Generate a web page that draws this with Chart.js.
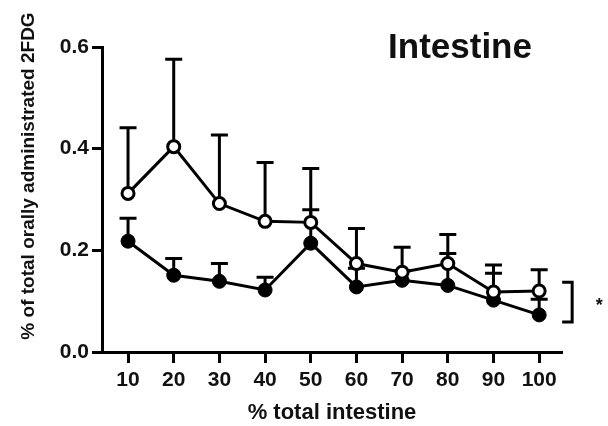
<!DOCTYPE html>
<html>
<head>
<meta charset="utf-8">
<script src="https://cdn.jsdelivr.net/npm/chart.js@4.4.0/dist/chart.umd.min.js"></script>
<style>
  html, body { margin: 0; padding: 0; background: #fff; }
</style>
</head>
<body>
<canvas id="grafico" width="608" height="426"></canvas>
<script>
// posicion a lo largo del intestino (%)
const posiciones = [10, 20, 30, 40, 50, 60, 70, 80, 90, 100];

// serie circulos abiertos: media y extremo superior de la barra de error
const mediaAbierto = [0.312, 0.404, 0.292, 0.257, 0.255, 0.174, 0.157, 0.174, 0.118, 0.120];
const errorAbierto = [0.441, 0.576, 0.427, 0.373, 0.361, 0.243, 0.206, 0.231, 0.171, 0.162];

// serie circulos rellenos
const mediaRelleno = [0.218, 0.151, 0.139, 0.122, 0.214, 0.128, 0.141, 0.131, 0.102, 0.073];
const errorRelleno = [0.263, 0.184, 0.174, 0.147, 0.280, 0.165, 0.160, 0.194, 0.155, 0.104];

const ticksY = [0.0, 0.2, 0.4, 0.6];
const corchete = [0.059, 0.137]; // rango del corchete de significancia

const etiquetaY = '% of total orally administrated 2FDG';
const etiquetaX = '% total intestine';
const tituloGrafico = 'Intestine';

const fuente = '"Liberation Sans", Arial, sans-serif';

//---- Barras de error (solo hacia arriba) ----
const barrasError = {
    id: 'barrasError',
    beforeDatasetsDraw(chart) {
        const ctx = chart.ctx;
        const x = chart.scales.x;
        const y = chart.scales.y;
        ctx.save();
        ctx.strokeStyle = '#000';
        ctx.lineWidth = 3;
        const dibujar = (medias, tops) => {
            posiciones.forEach((p, i) => {
                const px = x.getPixelForValue(p);
                const y0 = y.getPixelForValue(medias[i]);
                const y1 = y.getPixelForValue(tops[i]);
                ctx.beginPath();
                ctx.moveTo(px, y0);
                ctx.lineTo(px, y1);
                ctx.moveTo(px - 8.5, y1);
                ctx.lineTo(px + 8.5, y1);
                ctx.stroke();
            });
        };
        dibujar(mediaRelleno, errorRelleno);
        dibujar(mediaAbierto, errorAbierto);
        ctx.restore();
    }
};

//---- Titulo, etiqueta del eje Y, corchete y asterisco ----
const textos = {
    id: 'textos',
    afterDraw(chart) {
        const ctx = chart.ctx;
        const a = chart.chartArea;
        const x = chart.scales.x;
        const y = chart.scales.y;
        ctx.save();
        ctx.fillStyle = '#111';
        ctx.textAlign = 'center';
        ctx.textBaseline = 'middle';
        ctx.font = `bold 35px ${fuente}`;
        ctx.fillText(tituloGrafico, a.right - 102, a.top + 1);

        // corchete
        const xc = x.getPixelForValue(posiciones[posiciones.length - 1]) + 33;
        const yTop = y.getPixelForValue(corchete[1]);
        const yBot = y.getPixelForValue(corchete[0]);
        ctx.strokeStyle = '#000';
        ctx.lineWidth = 3;
        ctx.beginPath();
        ctx.moveTo(xc - 10, yTop);
        ctx.lineTo(xc, yTop);
        ctx.lineTo(xc, yBot);
        ctx.lineTo(xc - 10, yBot);
        ctx.stroke();
        ctx.font = `bold 18px ${fuente}`;
        ctx.fillText('*', xc + 27, (yTop + yBot) / 2 + 4);

        // etiqueta vertical
        ctx.translate(29, 176);
        ctx.rotate(-Math.PI / 2);
        ctx.font = `bold 19px ${fuente}`;
        ctx.fillText(etiquetaY, 0, 0);
        ctx.restore();
    }
};

const datosAbierto = posiciones.map((p, i) => ({ x: p, y: mediaAbierto[i] }));
const datosRelleno = posiciones.map((p, i) => ({ x: p, y: mediaRelleno[i] }));

new Chart(document.querySelector('#grafico'), {
    type: 'line',
    data: {
        datasets: [{
            label: 'abierto',
            data: datosAbierto,
            borderColor: '#000',
            borderWidth: 3,
            pointBackgroundColor: '#fff',
            pointBorderColor: '#000',
            pointBorderWidth: 3,
            pointRadius: 6,
            tension: 0
        }, {
            label: 'relleno',
            data: datosRelleno,
            borderColor: '#000',
            borderWidth: 3,
            pointBackgroundColor: '#000',
            pointBorderColor: '#000',
            pointBorderWidth: 1,
            pointRadius: 7,
            tension: 0
        }]
    },
    options: {
        responsive: false,
        animation: false,
        layout: { padding: { top: 47, right: 46, left: 0, bottom: 0 } },
        plugins: {
            legend: { display: false },
            tooltip: { enabled: false }
        },
        scales: {
            x: {
                type: 'linear',
                min: 4.3,
                max: 105,
                afterBuildTicks: (axis) => { axis.ticks = posiciones.map(v => ({ value: v })); },
                afterFit: (scale) => { scale.height = 74; },
                border: { display: true, color: '#000', width: 3 },
                grid: { drawOnChartArea: false, drawTicks: true, tickLength: 11, tickWidth: 3, tickColor: '#000' },
                ticks: {
                    color: '#111',
                    padding: 5,
                    maxRotation: 0,
                    font: { family: fuente, size: 21, weight: 'bold' }
                },
                title: {
                    display: true,
                    text: etiquetaX,
                    color: '#111',
                    padding: { top: 0, bottom: 0 },
                    font: { family: fuente, size: 22, weight: 'bold' }
                }
            },
            y: {
                min: 0,
                max: 0.6,
                afterBuildTicks: (axis) => { axis.ticks = ticksY.map(v => ({ value: v })); },
                afterFit: (scale) => { scale.width = 102; },
                border: { display: true, color: '#000', width: 3 },
                grid: { drawOnChartArea: false, drawTicks: true, tickLength: 10, tickWidth: 3, tickColor: '#000' },
                ticks: {
                    color: '#111',
                    padding: 3,
                    font: { family: fuente, size: 21, weight: 'bold' },
                    callback: (v) => Number(v).toFixed(1)
                }
            }
        }
    },
    plugins: [barrasError, textos]
});
</script>
</body>
</html>
